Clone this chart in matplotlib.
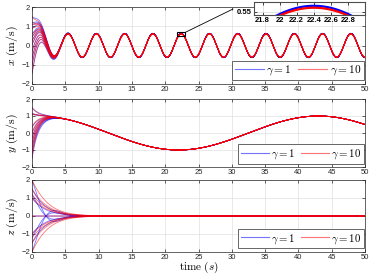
import numpy as np
import matplotlib
matplotlib.use("Agg")
import matplotlib.pyplot as plt
from matplotlib.patches import Rectangle, ConnectionPatch
from matplotlib.lines import Line2D

plt.rcParams['mathtext.fontset'] = 'cm'
plt.rcParams['font.family'] = ['Liberation Sans', 'DejaVu Sans']

# ---------------- data ----------------
# leader x-velocity: amplitude / angular frequency / time of a peak
X_AMP_BLUE = 0.63
X_AMP_RED = 0.605
X_OMEGA = 1.48
X_TPEAK = 5.42
# leader y-velocity
Y_AMP = 1.0
Y_OMEGA = 0.1496
Y_TPEAK = 1.0
# initial velocities of the agents
X0 = [1.5, 1.2, 1.1, 0.9, 0.6, 0.45, 0.25, 0.05, -0.3, -0.65, -1.0, -1.45]
Y0 = [1.5, 1.15, 1.1, 0.35, 0.0, -0.3, -0.6, -0.9, -1.2, -1.5]
Z0 = [2.0, 1.5, 1.2, 1.0, 0.0, -1.0, -1.2, -1.5, -2.0]
# convergence rates for gamma = 1 (blue) and gamma = 10 (red)
RATE_X = {'blue': 0.8, 'red': 0.9}
RATE_Y = {'blue': 1.0, 'red': 1.2}
RATE_Z = {'blue': 0.5, 'red': 0.6}
Z_OSC_BLUE = 0.75
LEGEND_LABELS = [r'$\gamma = 1$', r'$\gamma = 10$']
XTICKS = [0, 5, 10, 15, 20, 25, 30, 35, 40, 45, 50]
YTICKS = [-2, -1, 0, 1, 2]
INSET_XTICKS = [21.8, 22.0, 22.2, 22.4, 22.6, 22.8]
INSET_XTICKLABELS = ['21.8', '22', '22.2', '22.4', '22.6', '22.8']
INSET_XLIM = (21.7, 23.0)
INSET_YLIM = (0.51, 0.68)

t = np.linspace(0, 50, 3001)

def leader_x(tt, amp):
    return amp * np.cos(X_OMEGA * (tt - X_TPEAK))

def leader_y(tt):
    return Y_AMP * np.cos(Y_OMEGA * (tt - Y_TPEAK))

colors = {'blue': (0, 0, 1), 'red': (1, 0, 0)}
amps = {'blue': X_AMP_BLUE, 'red': X_AMP_RED}

fig = plt.figure(figsize=(3.74, 2.75), dpi=100)
W, H = 374.0, 275.0
def pos(l, r, top, bot):
    return [l / W, 1 - bot / H, (r - l) / W, (bot - top) / H]

ax1 = fig.add_axes(pos(32, 365, 7, 84))
ax2 = fig.add_axes(pos(32, 365, 99, 167))
ax3 = fig.add_axes(pos(32, 365, 180, 252))

lw = 0.6
al = 0.55
for c in ['blue', 'red']:
    lx = leader_x(t, amps[c])
    for x0 in X0:
        e0 = x0 - leader_x(0, amps[c])
        ax1.plot(t, lx + e0 * np.exp(-RATE_X[c] * t), color=colors[c], lw=lw, alpha=al)
    ly = leader_y(t)
    for y0 in Y0:
        e0 = y0 - leader_y(0)
        ax2.plot(t, ly + e0 * np.exp(-RATE_Y[c] * t), color=colors[c], lw=lw, alpha=al)
    for i, z0 in enumerate(Z0):
        if c == 'blue':
            if i % 2 == 0:
                z = z0 * np.exp(-RATE_Z[c] * t) * np.cos(Z_OSC_BLUE * t)
            else:
                z = z0 * np.exp(-RATE_Z[c] * t)
        else:
            z = z0 * np.exp(-RATE_Z[c] * t) * (1 + 0.2 * t)
        ax3.plot(t, z, color=colors[c], lw=lw, alpha=al)

ylabels = [r'$x\ (\mathrm{m/s})$', r'$y\ (\mathrm{m/s})$', r'$z\ (\mathrm{m/s})$']
legend_sizes = [8.2, 7.8, 7.8]
for ax, yl, fs in zip([ax1, ax2, ax3], ylabels, legend_sizes):
    ax.set_xlim(0, 50)
    ax.set_ylim(-2, 2)
    ax.set_xticks(XTICKS)
    ax.set_yticks(YTICKS)
    ax.tick_params(direction='in', length=2.5, width=0.5, labelsize=5.5,
                   pad=1.5, colors='0.15', top=True, right=True)
    ax.grid(True, color='0.88', lw=0.5)
    for s in ax.spines.values():
        s.set_linewidth(0.5)
        s.set_color('0.15')
    ax.set_ylabel(yl, fontsize=8.5, labelpad=1)
    hs = [Line2D([], [], color='b', lw=0.8, alpha=al),
          Line2D([], [], color='r', lw=0.8, alpha=al)]
    leg = ax.legend(hs, LEGEND_LABELS, ncol=2, loc='lower right',
                    bbox_to_anchor=(0.997, 0.05), borderaxespad=0,
                    fontsize=fs, handlelength=2.6, columnspacing=0.5,
                    handletextpad=0.2, borderpad=0.25, fancybox=False,
                    framealpha=1, edgecolor='0.3')
    leg.get_frame().set_linewidth(0.6)

fig.text(198.5 / W, 1 - 267.5 / H, r'$\mathrm{time}\ (s)$', fontsize=8,
         ha='center', va='center')

# zoom rectangle and inset
ax1.add_patch(Rectangle((INSET_XLIM[0], INSET_YLIM[0]), INSET_XLIM[1] - INSET_XLIM[0],
                        INSET_YLIM[1] - INSET_YLIM[0], fill=False, ec='k', lw=0.8, zorder=5))
axin = fig.add_axes(pos(254, 365, 2, 15))
for c in ['blue', 'red']:
    lx = leader_x(t, amps[c])
    axin.plot(t, lx, color=colors[c], lw=1.6)
axin.set_xlim(*INSET_XLIM)
axin.set_ylim(*INSET_YLIM)
axin.set_xticks(INSET_XTICKS)
axin.set_xticklabels(INSET_XTICKLABELS)
axin.set_yticks([0.55])
axin.set_yticklabels(['0.55'])
axin.tick_params(direction='in', length=2, width=0.5, labelsize=5.5, pad=1.5,
                 top=True, right=True)
for lab in axin.get_xticklabels() + axin.get_yticklabels():
    lab.set_fontweight('bold')
axin.grid(True, color='0.85', lw=0.5)
for s in axin.spines.values():
    s.set_linewidth(0.8)
    s.set_color('0.3')

con = ConnectionPatch(xyA=(INSET_XLIM[1], INSET_YLIM[1]), coordsA=ax1.transData,
                      xyB=(233 / W, 1 - 9 / H), coordsB=fig.transFigure,
                      color='k', lw=0.6)
fig.add_artist(con)

fig.savefig('out.png', dpi=100)
